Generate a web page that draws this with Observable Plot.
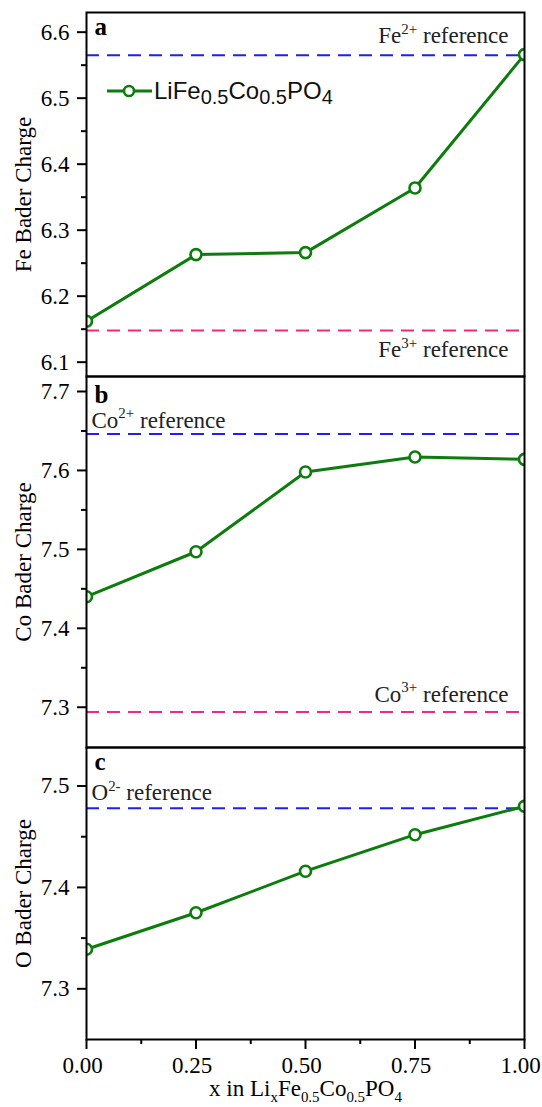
<!DOCTYPE html>
<html><head><meta charset="utf-8">
<script src="https://cdn.jsdelivr.net/npm/d3@7"></script>
<script src="https://cdn.jsdelivr.net/npm/@observablehq/plot@0.6"></script>
<style>
body{margin:0;background:#fff;}
#wrap{position:relative;width:542px;height:1107px;background:#fff;}
#wrap svg.plot{display:block;overflow:visible;}
#wrap svg text{font-family:"Liberation Serif","Times New Roman",serif;}
#legend{position:absolute;left:105px;top:76px;}
#legend text{font-family:"Liberation Sans",Arial,sans-serif !important;}
</style></head><body><div id="wrap"></div>
<script>
// ---- data ----
const xValues = [0, 0.25, 0.5, 0.75, 1];
const feCharge = [6.162, 6.263, 6.266, 6.364, 6.566];
const coCharge = [7.440, 7.497, 7.598, 7.617, 7.614];
const oCharge  = [7.339, 7.375, 7.416, 7.452, 7.480];
const feRefValues = [6.565, 6.148];
const coRefValues = [7.646, 7.294];
const oRefValues  = [7.478];
const feRefLabels = ["Fe^{2+} reference", "Fe^{3+} reference"];
const coRefLabels = ["Co^{2+} reference", "Co^{3+} reference"];
const oRefLabels  = ["O^{2-} reference"];
const feTicks = [6.1, 6.2, 6.3, 6.4, 6.5, 6.6];
const feMinor = [6.15, 6.25, 6.35, 6.45, 6.55];
const coTicks = [7.3, 7.4, 7.5, 7.6, 7.7];
const coMinor = [7.35, 7.45, 7.55, 7.65];
const oTicks = [7.3, 7.4, 7.5];
const oMinor = [7.35, 7.45];
const xTicks = [0, 0.25, 0.5, 0.75, 1];
const xMinor = [0.125, 0.375, 0.625, 0.875];
const yLabels = ["Fe Bader Charge", "Co Bader Charge", "O Bader Charge"];
const panelLetters = ["a", "b", "c"];
const xTitle = "x in Li_{x}Fe_{0.5}Co_{0.5}PO_{4}";
const seriesName = "LiFe_{0.5}Co_{0.5}PO_{4}";

// ---- style ----
const GREEN = "#0c7d0c", BLUE = "#1f1ff0", PINK = "#f5287f";
const SERIF = "Liberation Serif, Times New Roman, serif";
const FS = 23;
const W = 542, ML = 86, MR = 18;

function rich(svg, base) {
  d3.select(svg).selectAll("text").each(function() {
    const s = this.textContent;
    if (!/[\^_]\{/.test(s)) return;
    const parts = s.split(/([\^_]\{[^}]*\})/).filter(p => p);
    while (this.firstChild) this.removeChild(this.firstChild);
    let shift = 0;
    for (const p of parts) {
      const m = p.match(/^([\^_])\{(.*)\}$/);
      const t = d3.select(this).append("tspan");
      let target = 0;
      if (m) {
        target = m[1] === "^" ? -0.42 * base : 0.3 * base;
        t.attr("font-size", (0.65 * base) + "px").text(m[2]);
      } else t.text(p);
      if (target !== shift) t.attr("dy", target - shift);
      shift = target;
    }
  });
}

function panel(o) {
  const data = xValues.map((x, i) => ({x, v: o.values[i]}));
  const marks = [
    ...o.refValues.map((v, i) => Plot.ruleY([v], {stroke: o.refColors[i], strokeWidth: 2, strokeDasharray: "13,8"})),
    Plot.line(data, {x: "x", y: "v", stroke: GREEN, strokeWidth: 3, clip: true}),
    Plot.dot(data, {x: "x", y: "v", r: 5.5, stroke: GREEN, strokeWidth: 2.6, fill: "white", clip: true}),
    ...o.refLabels.map((t, i) => Plot.text([{v: o.refValues[i], t}], {
      y: "v", text: "t", frameAnchor: o.refPlace[i].side, dx: o.refPlace[i].side === "right" ? -16 : 5,
      dy: o.refPlace[i].dy, textAnchor: o.refPlace[i].side === "right" ? "end" : "start",
      lineAnchor: "bottom", fontSize: FS, fontFamily: SERIF, fill: "#222"})),
    Plot.axisY({ticks: o.ticks, tickFormat: ".1f", tickSize: 9, tickPadding: 8, strokeWidth: 2, fontSize: FS, fontFamily: SERIF, label: null}),
    Plot.axisY({ticks: o.minor, tickSize: 5, strokeWidth: 2, tickFormat: () => "", label: null}),
    Plot.frame({stroke: "black", strokeWidth: 2}),
    Plot.text([o.ylabel], {frameAnchor: "left", dx: -63, rotate: -90, textAnchor: "middle", lineAnchor: "middle", fontSize: FS, fontFamily: SERIF}),
    Plot.text([o.letter], {frameAnchor: "top-left", dx: 8, dy: o.letterDy, lineAnchor: "bottom", fontWeight: "bold", fontSize: 25, fontFamily: SERIF})
  ];
  if (o.xaxis) {
    marks.push(
      Plot.axisX({ticks: xTicks, tickSize: 10, strokeWidth: 2, tickFormat: () => "", label: null}),
      Plot.axisX({ticks: xTicks, tickFormat: ".2f", tickSize: 0, tickPadding: 17, dx: -4, fontSize: FS, fontFamily: SERIF, label: null}),
      Plot.axisX({ticks: xMinor, tickSize: 5, strokeWidth: 2, tickFormat: () => "", label: null}),
      Plot.text([xTitle], {frameAnchor: "bottom", dy: 56, lineAnchor: "bottom", fontSize: FS, fontFamily: SERIF})
    );
  }
  const svg = Plot.plot({
    width: W, height: o.height, marginTop: o.mt, marginBottom: o.mb, marginLeft: ML, marginRight: MR,
    style: {fontFamily: SERIF, fontSize: FS + "px", color: "black", background: "transparent", overflow: "visible"},
    x: {domain: [0, 1], axis: o.xaxis ? undefined : null},
    y: {domain: o.domain},
    marks
  });
  rich(svg, FS);
  return svg;
}

const wrap = document.getElementById("wrap");
wrap.append(panel({values: feCharge, refValues: feRefValues, refLabels: feRefLabels, refColors: [BLUE, PINK],
  refPlace: [{side: "right", dy: -12}, {side: "right", dy: 27}],
  ticks: feTicks, minor: feMinor, domain: [6.0783, 6.6298], ylabel: yLabels[0], letter: panelLetters[0], letterDy: 22,
  height: 376, mt: 12, mb: 0}));
wrap.append(panel({values: coCharge, refValues: coRefValues, refLabels: coRefLabels, refColors: [BLUE, PINK],
  refPlace: [{side: "left", dy: -6}, {side: "right", dy: -10}],
  ticks: coTicks, minor: coMinor, domain: [7.249, 7.719], ylabel: yLabels[1], letter: panelLetters[1], letterDy: 26,
  height: 371, mt: 0, mb: 0}));
wrap.append(panel({values: oCharge, refValues: oRefValues, refLabels: oRefLabels, refColors: [BLUE],
  refPlace: [{side: "left", dy: -8}],
  ticks: oTicks, minor: oMinor, domain: [7.25, 7.538], ylabel: yLabels[2], letter: panelLetters[2], letterDy: 22,
  height: 360, mt: 0, mb: 68, xaxis: true}));

// legend (inside panel a)
const leg = d3.select(wrap).append("svg").attr("id", "legend").attr("width", 280).attr("height", 36);
leg.append("line").attr("x1", 2).attr("x2", 47).attr("y1", 15).attr("y2", 15).attr("stroke", GREEN).attr("stroke-width", 3);
leg.append("circle").attr("cx", 24).attr("cy", 15).attr("r", 5).attr("fill", "white").attr("stroke", GREEN).attr("stroke-width", 2.6);
leg.append("text").attr("x", 49).attr("y", 23).attr("font-size", 24).attr("fill", "#111").text(seriesName);
leg.selectAll("text").each(function() {
  const s = this.textContent;
  const parts = s.split(/(_\{[^}]*\})/).filter(p => p);
  this.textContent = "";
  let shift = 0;
  for (const p of parts) {
    const m = p.match(/^_\{(.*)\}$/);
    const t = d3.select(this).append("tspan");
    const target = m ? 5 : 0;
    if (m) t.attr("font-size", "20px").text(m[1]); else t.text(p);
    if (target !== shift) t.attr("dy", target - shift);
    shift = target;
  }
});
</script></body></html>
